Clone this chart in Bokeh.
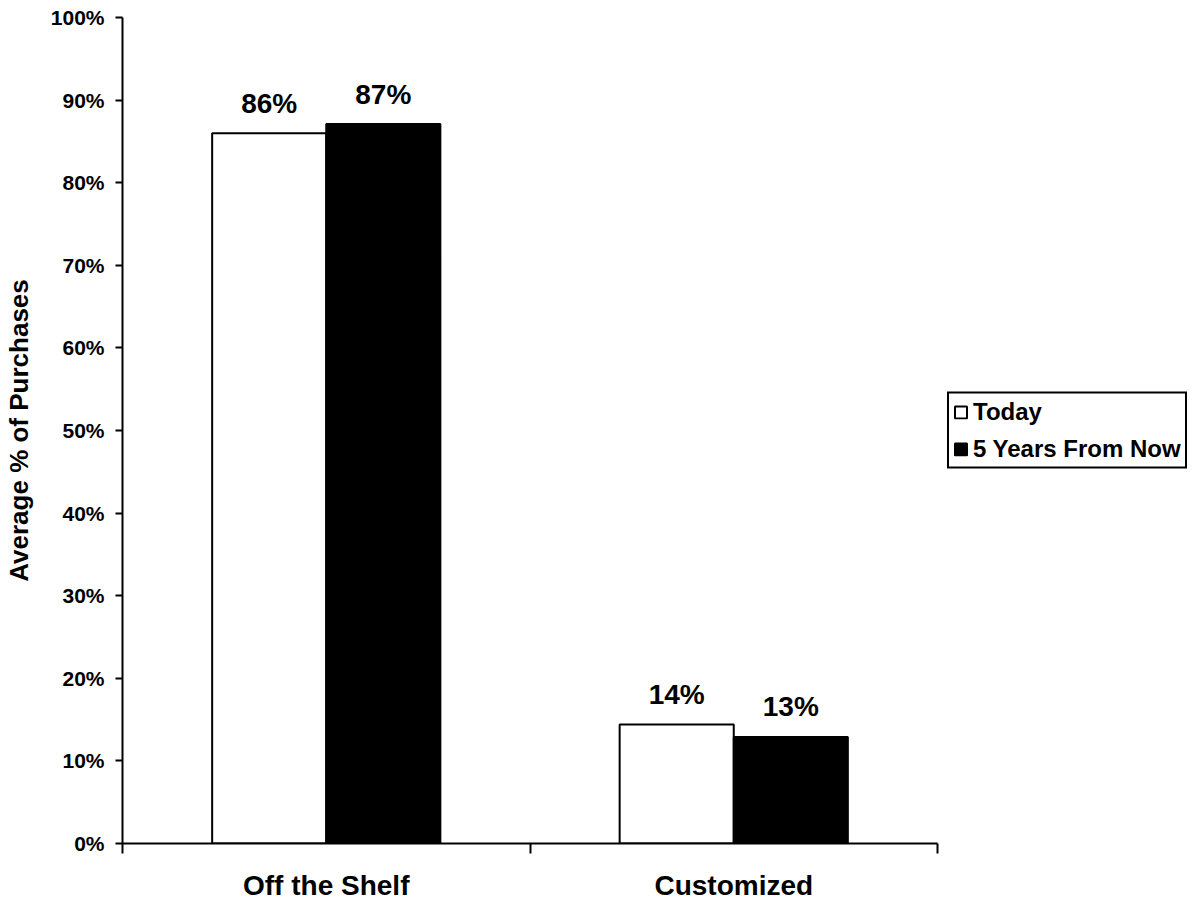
from bokeh.plotting import figure
from bokeh.models import (ColumnDataSource, FixedTicker, Legend, LegendItem, Range1d)
from bokeh.core.properties import value
from bokeh.embed import file_html
from bokeh.resources import INLINE

# Data
categories = ["Off the Shelf", "Customized"]
today = [86.0, 14.4]
five_years = [87.1, 12.9]
series_names = ["Today", "5 Years From Now"]
y_ticks = [0, 10, 20, 30, 40, 50, 60, 70, 80, 90, 100]

FONT = "Liberation Sans"
BAR_W = 0.28

n = len(categories)
centers = [i + 0.5 for i in range(n)]
src = ColumnDataSource(dict(
    x_today=[c - BAR_W / 2 for c in centers],
    x_five=[c + BAR_W / 2 for c in centers],
    today=today,
    five=five_years,
    lab_today=[f"{v:.0f}%" for v in today],
    lab_five=[f"{v:.0f}%" for v in five_years],
))

p = figure(frame_width=815, frame_height=826, output_backend="svg", toolbar_location=None,
           x_range=Range1d(0, n), y_range=Range1d(0, 100),
           min_border_left=121, min_border_right=0, min_border_top=17,
           min_border_bottom=56)
p.outline_line_color = None
p.xgrid.visible = False
p.ygrid.visible = False
p.background_fill_color = "white"
p.border_fill_color = "white"

r_today = p.vbar(x="x_today", top="today", width=BAR_W, source=src,
                 fill_color="white", line_color="black", line_width=2)
r_five = p.vbar(x="x_five", top="five", width=BAR_W, source=src,
                fill_color="black", line_color="black", line_width=2)

# value labels above the bars
for xcol, ycol, tcol in (("x_today", "today", "lab_today"), ("x_five", "five", "lab_five")):
    p.text(x=xcol, y=ycol, text=tcol, source=src, text_align="center",
           text_baseline="alphabetic", y_offset=-30, text_font=value(FONT),
           text_font_size="28px", text_font_style="bold", text_color="black")

# y axis
yax = p.yaxis[0]
yax.ticker = FixedTicker(ticks=y_ticks)
yax.major_label_overrides = {t: f"{t}%" for t in y_ticks}
yax.minor_tick_line_color = None
yax.major_tick_in = 0
yax.major_tick_out = 7
yax.major_tick_line_width = 2
yax.axis_line_width = 2
yax.major_label_text_font = FONT
yax.major_label_text_font_style = "bold"
yax.major_label_text_font_size = "21px"
yax.major_label_text_color = "black"
yax.major_label_standoff = 11
yax.axis_label = "Average % of Purchases"
yax.axis_label_text_font = FONT
yax.axis_label_text_font_style = "bold"
yax.axis_label_text_font_size = "26px"
yax.axis_label_text_color = "black"
yax.axis_label_standoff = 14

# x axis: boundary ticks as minor ticks, category names on major ticks
xax = p.xaxis[0]
xax.ticker = FixedTicker(ticks=centers, minor_ticks=list(range(n + 1)))
xax.major_label_overrides = {c: name for c, name in zip(centers, categories)}
xax.major_tick_in = 0
xax.major_tick_out = 0
xax.minor_tick_in = 0
xax.minor_tick_out = 10
xax.minor_tick_line_width = 2
xax.axis_line_width = 2
xax.major_label_text_font = FONT
xax.major_label_text_font_style = "bold"
xax.major_label_text_font_size = "28px"
xax.major_label_text_color = "black"
xax.major_label_standoff = 16

legend = Legend(items=[LegendItem(label=series_names[0], renderers=[r_today]),
                       LegendItem(label=series_names[1], renderers=[r_five])],
                location="center_left", orientation="vertical")
legend.label_text_font = FONT
legend.label_text_font_style = "bold"
legend.label_text_font_size = "24px"
legend.label_text_color = "black"
legend.label_height = 24
legend.glyph_width = 15
legend.glyph_height = 15
legend.label_standoff = 5
legend.spacing = 9
legend.padding = 4
legend.margin = 10
legend.border_line_color = "black"
legend.border_line_alpha = 1
legend.border_line_width = 2
legend.background_fill_color = "white"
legend.background_fill_alpha = 1
p.add_layout(legend, "right")

open("out.html", "w").write(file_html(p, INLINE))
